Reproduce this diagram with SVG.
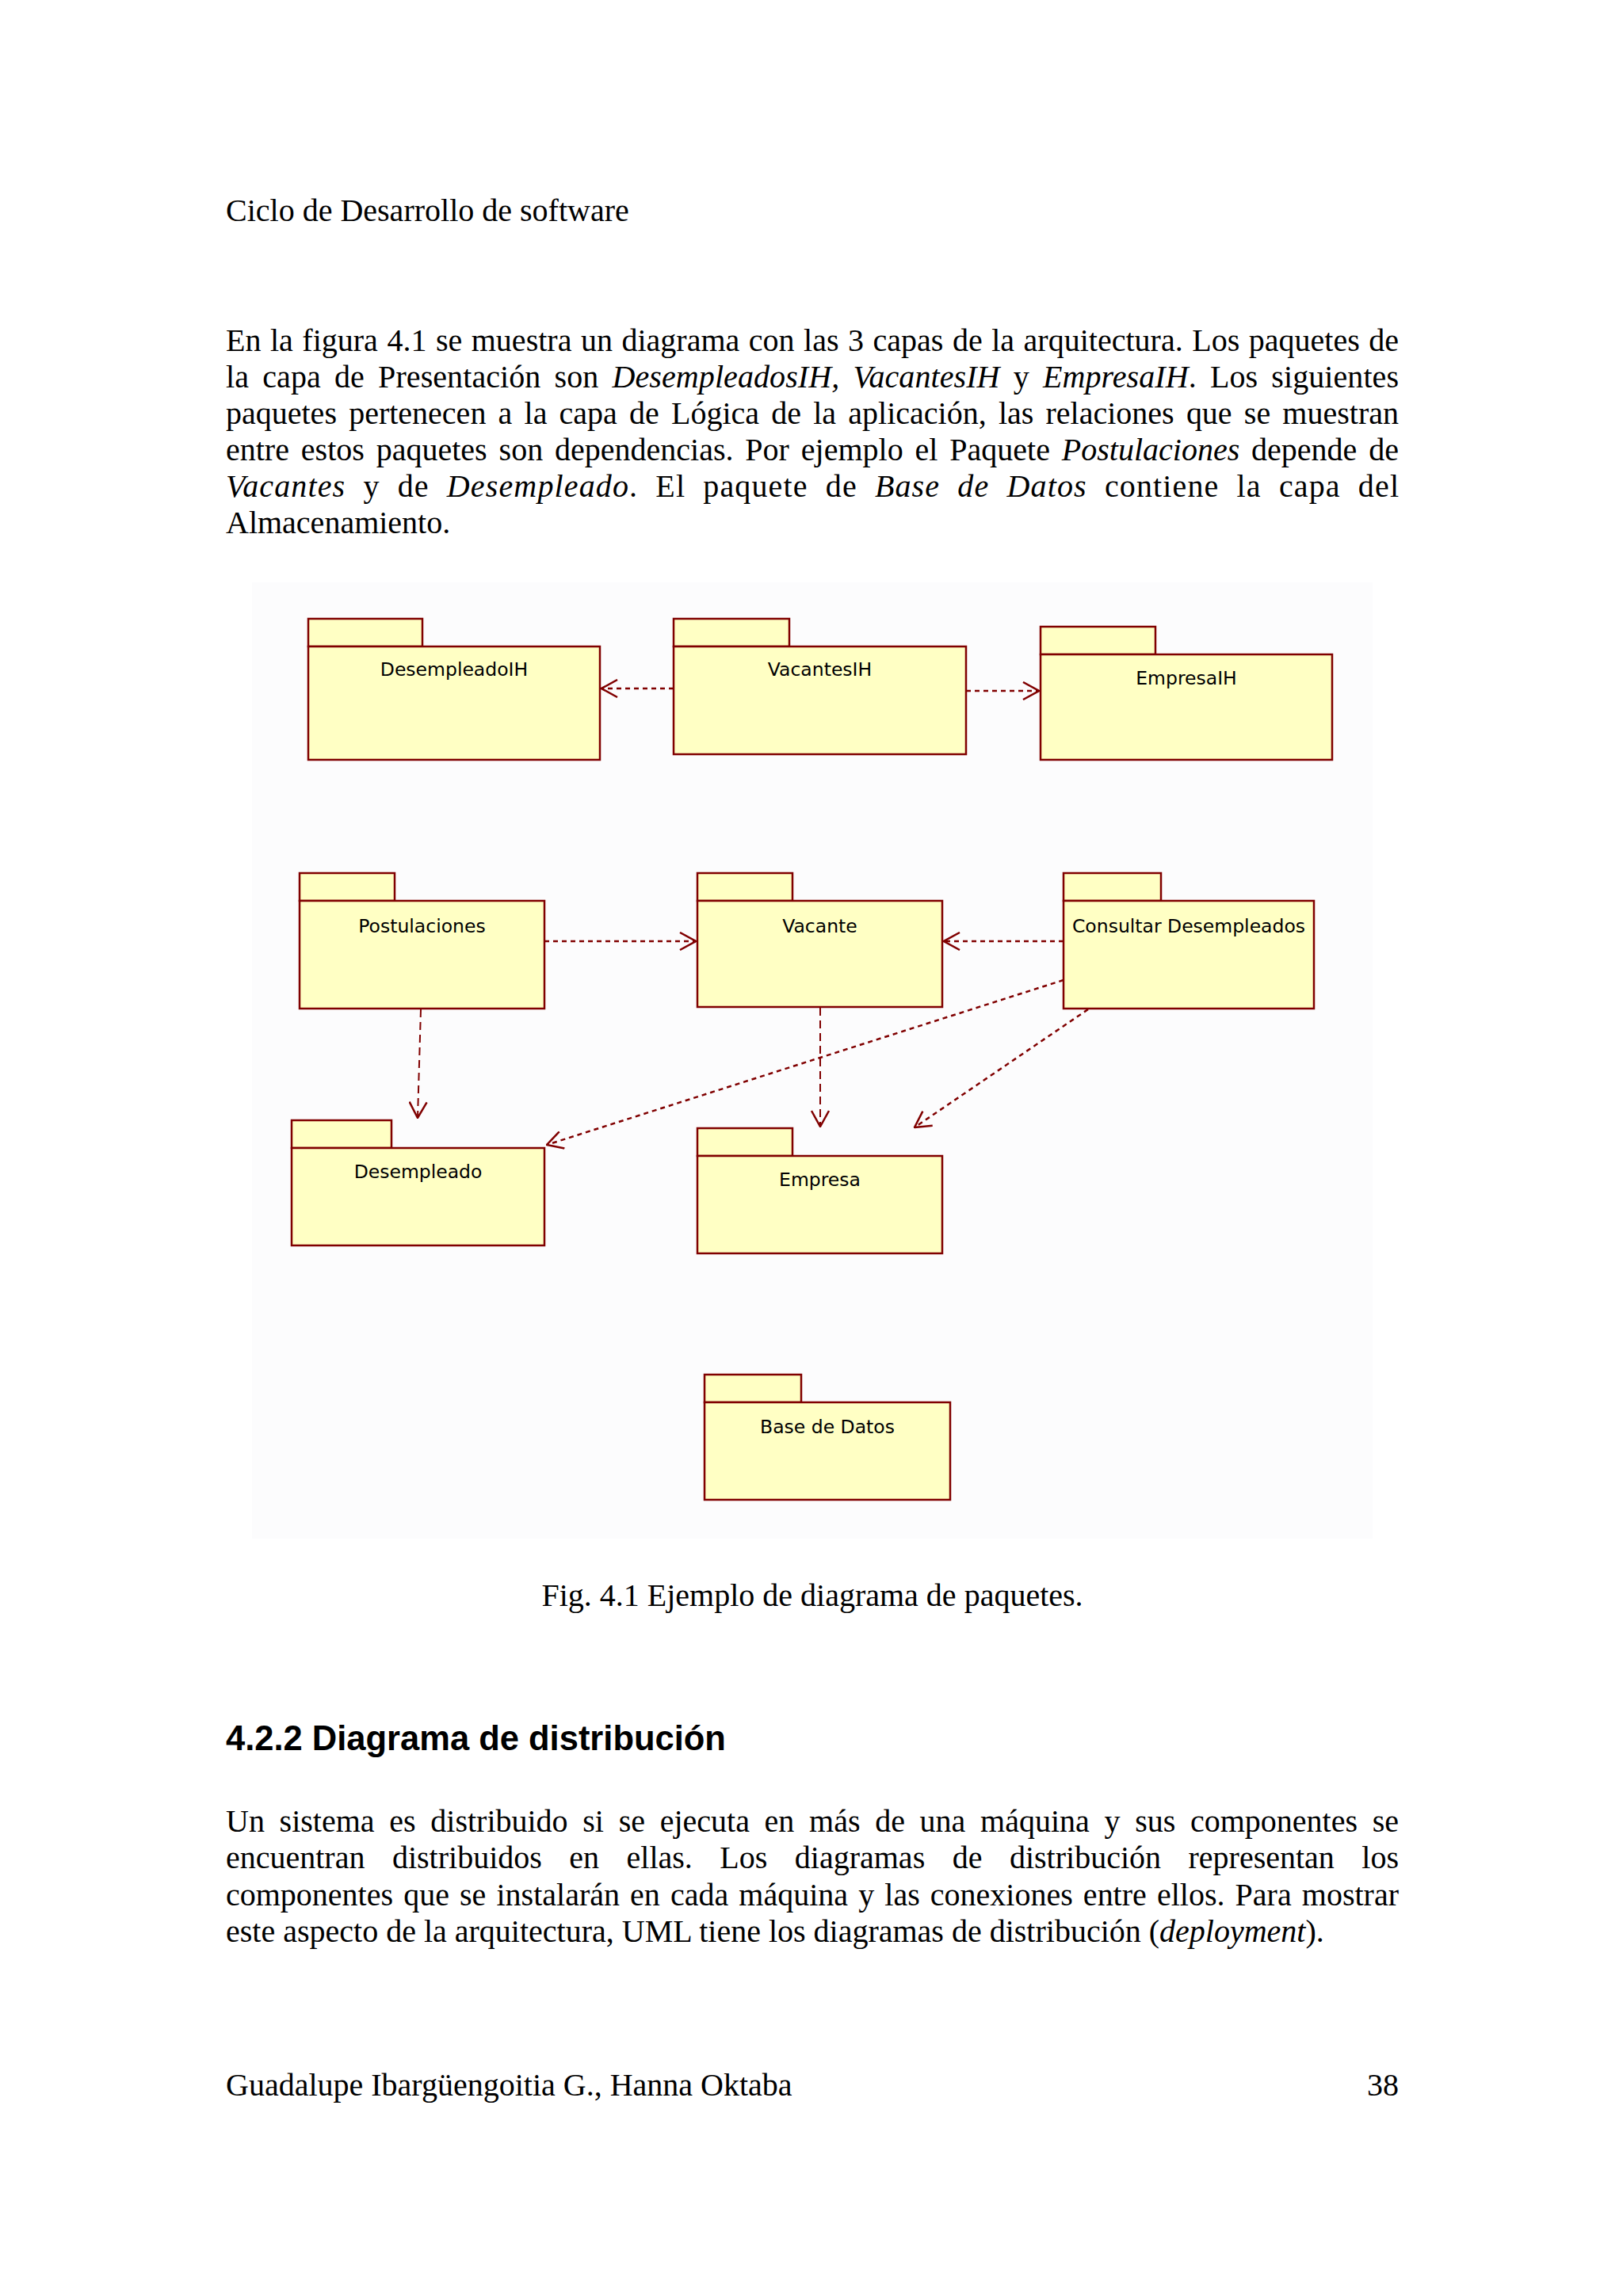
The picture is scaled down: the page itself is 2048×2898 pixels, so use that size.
<svg xmlns="http://www.w3.org/2000/svg" width="2048" height="2898" viewBox="0 0 2048 2898">
<style>
.p{font-family:"Liberation Serif","Times New Roman",serif;font-size:40px;fill:#000}
.i{font-style:italic}
.h{font-family:"Liberation Sans",Arial,sans-serif;font-size:43.5px;font-weight:bold;fill:#000}
.tab,.body{fill:#FFFFC4;stroke:#800000;stroke-width:2.5}
.lbl{font-family:"DejaVu Sans",Tahoma,sans-serif;font-size:23.5px;fill:#000;text-anchor:middle}
.dep{fill:none;stroke:#800000;stroke-width:2.5;stroke-dasharray:6 5;marker-end:url(#open)}
.depv{fill:none;stroke:#800000;stroke-width:2;stroke-dasharray:10 6;marker-end:url(#open)}
</style>
<defs>
<marker id="open" markerUnits="userSpaceOnUse" viewBox="0 0 22 24" refX="21" refY="12" markerWidth="22" markerHeight="24" orient="auto">
<path d="M1,1 L21,12 L1,23" fill="none" stroke="#800000" stroke-width="2.5" stroke-dasharray="none"/>
</marker>
</defs>
<rect x="0" y="0" width="2048" height="2898" fill="#FFFFFF"/>

<text class="p" x="285" y="279">Ciclo de Desarrollo de software</text>

<g id="paragraph1">
<text class="p" x="285" y="443" word-spacing="1.5" textLength="1480" lengthAdjust="spacing">En la figura 4.1 se muestra un diagrama con las 3 capas de la arquitectura. Los paquetes de</text>
<text class="p" x="285" y="489" word-spacing="7.1" textLength="1480" lengthAdjust="spacing">la capa de Presentación son <tspan class="i">DesempleadosIH, VacantesIH</tspan> y <tspan class="i">EmpresaIH</tspan>. Los siguientes</text>
<text class="p" x="285" y="535" word-spacing="5.2" textLength="1480" lengthAdjust="spacing">paquetes pertenecen a la capa de Lógica de la aplicación, las relaciones que se muestran</text>
<text class="p" x="285" y="581" word-spacing="4.9" textLength="1480" lengthAdjust="spacing">entre estos paquetes son dependencias. Por ejemplo el Paquete <tspan class="i">Postulaciones</tspan> depende de</text>
<text class="p" x="285" y="627" word-spacing="11" textLength="1480" lengthAdjust="spacing"><tspan class="i">Vacantes</tspan> y de <tspan class="i">Desempleado</tspan>. El paquete de <tspan class="i">Base de Datos</tspan> contiene la capa del</text>
<text class="p" x="285" y="673">Almacenamiento.</text>
</g>

<rect x="318" y="735" width="1414" height="1207" fill="#FCFCFD"/>

<g id="connectors">
<path class="dep" d="M850,869 L759,869"/>
<path class="dep" d="M1219,872 L1311,872"/>
<path class="dep" d="M687,1188 L878,1188"/>
<path class="dep" d="M1342,1188 L1191,1188"/>
<path class="depv" d="M531,1274 L527,1411"/>
<path class="depv" d="M1035,1272 L1035,1422"/>
<path class="dep" d="M1342,1237 L690,1445"/>
<path class="dep" d="M1373,1274 L1154,1423"/>
</g>

<g id="DesempleadoIH">
<rect class="tab" x="389" y="781" width="144" height="35"/>
<rect class="body" x="389" y="816" width="368" height="143"/>
<text class="lbl" x="573" y="853">DesempleadoIH</text>
</g>
<g id="VacantesIH">
<rect class="tab" x="850" y="781" width="146" height="35"/>
<rect class="body" x="850" y="816" width="369" height="136"/>
<text class="lbl" x="1034.5" y="853">VacantesIH</text>
</g>
<g id="EmpresaIH">
<rect class="tab" x="1313" y="791" width="145" height="35"/>
<rect class="body" x="1313" y="826" width="368" height="133"/>
<text class="lbl" x="1497" y="864">EmpresaIH</text>
</g>
<g id="Postulaciones">
<rect class="tab" x="378" y="1102" width="120" height="35"/>
<rect class="body" x="378" y="1137" width="309" height="136"/>
<text class="lbl" x="532.5" y="1177">Postulaciones</text>
</g>
<g id="Vacante">
<rect class="tab" x="880" y="1102" width="120" height="35"/>
<rect class="body" x="880" y="1137" width="309" height="134"/>
<text class="lbl" x="1034.5" y="1177">Vacante</text>
</g>
<g id="ConsultarDesempleados">
<rect class="tab" x="1342" y="1102" width="123" height="35"/>
<rect class="body" x="1342" y="1137" width="316" height="136"/>
<text class="lbl" x="1500" y="1177">Consultar Desempleados</text>
</g>
<g id="Desempleado">
<rect class="tab" x="368" y="1414" width="126" height="35"/>
<rect class="body" x="368" y="1449" width="319" height="123"/>
<text class="lbl" x="527.5" y="1487">Desempleado</text>
</g>
<g id="Empresa">
<rect class="tab" x="880" y="1424" width="120" height="35"/>
<rect class="body" x="880" y="1459" width="309" height="123"/>
<text class="lbl" x="1034.5" y="1497">Empresa</text>
</g>
<g id="BaseDeDatos">
<rect class="tab" x="889" y="1735" width="122" height="35"/>
<rect class="body" x="889" y="1770" width="310" height="123"/>
<text class="lbl" x="1044" y="1809">Base de Datos</text>
</g>

<text class="p" x="1025" y="2027" text-anchor="middle">Fig. 4.1 Ejemplo de diagrama de paquetes.</text>

<text class="h" x="285" y="2209">4.2.2 Diagrama de distribución</text>

<g id="paragraph2">
<text class="p" x="285" y="2312" word-spacing="8.7" textLength="1480" lengthAdjust="spacing">Un sistema es distribuido si se ejecuta en más de una máquina y sus componentes se</text>
<text class="p" x="285" y="2358" word-spacing="24.5" textLength="1480" lengthAdjust="spacing">encuentran distribuidos en ellas. Los diagramas de distribución representan los</text>
<text class="p" x="285" y="2405" word-spacing="3.1" textLength="1480" lengthAdjust="spacing">componentes que se instalarán en cada máquina y las conexiones entre ellos. Para mostrar</text>
<text class="p" x="285" y="2451">este aspecto de la arquitectura, UML tiene los diagramas de distribución (<tspan class="i">deployment</tspan>).</text>
</g>

<text class="p" x="285" y="2645">Guadalupe Ibargüengoitia G., Hanna Oktaba</text>
<text class="p" x="1765" y="2645" text-anchor="end">38</text>
</svg>
